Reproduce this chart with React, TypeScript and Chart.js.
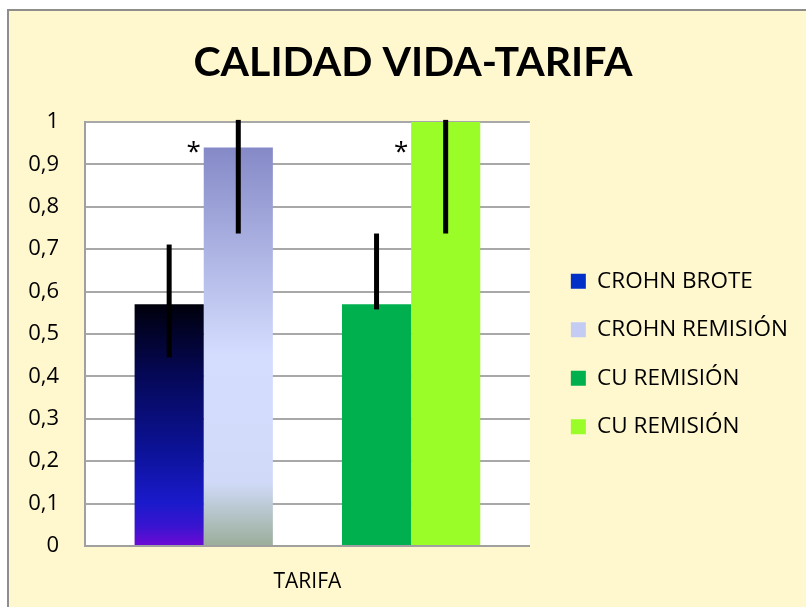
import React, { useEffect, useRef } from 'react';
import { Chart, registerables } from 'chart.js';

Chart.register(...registerables);

// ---- data ----
const categories = ['TARIFA'];
const seriesNames = ['CROHN BROTE', 'CROHN REMISIÓN', 'CU REMISIÓN', 'CU REMISIÓN'];
const crohnBrote = [0.57];
const crohnRemision = [0.94];
const cuRemision = [0.57];
const cuRemision2 = [1.0];
const errLow = [0.445, 0.737, 0.558, 0.737];
const errHigh = [0.711, 1.005, 0.737, 1.005];
const significant = [false, true, false, true];
const asteriskLevel = 0.94;
const yTickValues = [0, 0.1, 0.2, 0.3, 0.4, 0.5, 0.6, 0.7, 0.8, 0.9, 1];
const yTickLabels = ['0', '0,1', '0,2', '0,3', '0,4', '0,5', '0,6', '0,7', '0,8', '0,9', '1'];
const titleText = 'CALIDAD VIDA-TARIFA';

const FONT = "'Open Sans', sans-serif";

function gradientFill(values: number[], stops: [number, string][], fallback: string) {
  return (c: any) => {
    const chart = c.chart;
    if (!chart.chartArea || !chart.scales.y) return fallback;
    const y = chart.scales.y;
    const top = y.getPixelForValue(values[0]);
    const bot = y.getPixelForValue(0);
    const g = chart.ctx.createLinearGradient(0, top, 0, bot);
    stops.forEach(([o, col]) => g.addColorStop(o, col));
    return g;
  };
}

const framePlugin = {
  id: 'frame',
  beforeDraw(chart: any) {
    const { ctx, width, height, chartArea } = chart;
    ctx.save();
    ctx.fillStyle = '#FFFFFF';
    ctx.fillRect(0, 0, width, height);
    ctx.fillStyle = '#FFF7CE';
    ctx.fillRect(8, 10, width - 8, height - 10);
    ctx.strokeStyle = '#8E8E8E';
    ctx.lineWidth = 2;
    ctx.beginPath();
    ctx.moveTo(8, height);
    ctx.lineTo(8, 10);
    ctx.lineTo(width, 10);
    ctx.stroke();
    ctx.fillStyle = '#FFFFFF';
    ctx.fillRect(chartArea.left, chartArea.top, chartArea.right - chartArea.left, chartArea.bottom - chartArea.top);
    ctx.restore();
  },
};

const errorPlugin = {
  id: 'errorBars',
  afterDatasetsDraw(chart: any) {
    const { ctx } = chart;
    const y = chart.scales.y;
    ctx.save();
    chart.data.datasets.forEach((ds: any, i: number) => {
      const e = ds.errIndex;
      if (e === undefined || e === null) return;
      const bar = chart.getDatasetMeta(i).data[0];
      if (!bar) return;
      ctx.strokeStyle = '#000000';
      ctx.lineWidth = 5;
      ctx.lineCap = 'butt';
      ctx.beginPath();
      ctx.moveTo(bar.x, y.getPixelForValue(errLow[e]));
      ctx.lineTo(bar.x, y.getPixelForValue(errHigh[e]));
      ctx.stroke();
      if (significant[e]) {
        ctx.fillStyle = '#000000';
        ctx.font = `26px ${FONT}`;
        ctx.textAlign = 'center';
        ctx.textBaseline = 'alphabetic';
        ctx.fillText('*', bar.x - bar.width / 2 - 10, y.getPixelForValue(asteriskLevel) + 13);
      }
    });
    ctx.restore();
  },
};

export default function App() {
  const ref = useRef<HTMLCanvasElement>(null);
  useEffect(() => {
    if (!ref.current) return;
    const chart = new Chart(ref.current, {
      type: 'bar',
      data: {
        labels: categories,
        datasets: [
          {
            label: seriesNames[0],
            data: crohnBrote,
            errIndex: 0,
            backgroundColor: gradientFill(crohnBrote, [
              [0, '#00000C'], [0.3, '#050858'], [0.6, '#0C1296'], [0.82, '#1A1ACB'], [0.92, '#3A14D0'], [1, '#6E0AD6'],
            ], '#0030C8'),
          } as any,
          {
            label: seriesNames[1],
            data: crohnRemision,
            errIndex: 1,
            backgroundColor: gradientFill(crohnRemision, [
              [0, '#8589C7'], [0.52, '#D4DDFE'], [0.84, '#D0DAF8'], [1, '#9AAE9A'],
            ], '#C4CCF4'),
          } as any,
          { label: '', data: [null], backgroundColor: 'rgba(0,0,0,0)' } as any,
          { label: seriesNames[2], data: cuRemision, errIndex: 2, backgroundColor: '#00B04F' } as any,
          { label: seriesNames[3], data: cuRemision2, errIndex: 3, backgroundColor: '#9BFD27' } as any,
        ],
      },
      options: {
        responsive: false,
        animation: false,
        devicePixelRatio: 1,
        datasets: { bar: { categoryPercentage: 0.777, barPercentage: 1, borderWidth: 0 } },
        layout: { padding: { left: 20, right: 0, top: 11, bottom: 0 } },
        plugins: {
          tooltip: { enabled: false },
          title: {
            display: true,
            text: titleText,
            color: '#000000',
            font: { family: "Lato, sans-serif", size: 41, weight: 'bold', lineHeight: 1.2 },
            padding: { top: 27, bottom: 34.8 },
          },
          legend: {
            position: 'right',
            fullSize: false,
            maxWidth: 400,
            title: { display: true, text: ' ', font: { size: 10, lineHeight: 1.2 }, padding: 14 },
            labels: {
              color: '#000000',
              font: { family: FONT, size: 22.5 },
              boxWidth: 15,
              boxHeight: 15,
              padding: 26,
              filter: (item: any) => item.datasetIndex !== 2,
              generateLabels: (chart: any) => {
                const items = Chart.defaults.plugins.legend.labels.generateLabels(chart);
                const solid = ['#0030C8', '#C4CCF4', null, '#00B04F', '#9BFD27'];
                items.forEach((it: any) => {
                  const s = solid[it.datasetIndex];
                  if (s) it.fillStyle = s;
                  it.strokeStyle = 'rgba(0,0,0,0)';
                  it.lineWidth = 0;
                });
                return items;
              },
            },
          },
        },
        scales: {
          x: {
            grid: { display: false, drawTicks: false },
            border: { display: true, color: '#A0A0A0', width: 2 },
            ticks: { color: '#000000', font: { family: FONT, size: 21 }, padding: 23 },
            afterFit: (s: any) => { s.height = 61; },
          },
          y: {
            min: 0,
            max: 1,
            afterBuildTicks: (s: any) => { s.ticks = yTickValues.map((v) => ({ value: v })); },
            grid: { color: '#A8A8A8', lineWidth: 2, drawTicks: false },
            border: { display: true, color: '#A0A0A0', width: 2 },
            ticks: {
              color: '#000000',
              font: { family: FONT, size: 22 },
              padding: 26,
              callback: (_v: any, i: number) => yTickLabels[i],
            },
            afterFit: (s: any) => { s.width = 65; },
          },
          gap: {
            axis: 'y',
            position: 'right',
            display: true,
            grid: { display: false, drawTicks: false },
            border: { display: false },
            ticks: { display: false },
            afterFit: (s: any) => { s.width = 15; },
          },
          edge: {
            axis: 'y',
            position: 'right',
            weight: 2000,
            display: true,
            grid: { display: false, drawTicks: false },
            border: { display: false },
            ticks: { display: false },
            afterFit: (s: any) => { s.width = 8; },
          },
        },
      } as any,
      plugins: [framePlugin, errorPlugin],
    });
    return () => chart.destroy();
  }, []);
  return (
    <div style={{ position: 'fixed', left: 0, top: 0, width: 806, height: 607 }}>
      <canvas ref={ref} width={806} height={607} style={{ display: 'block' }} />
    </div>
  );
}
